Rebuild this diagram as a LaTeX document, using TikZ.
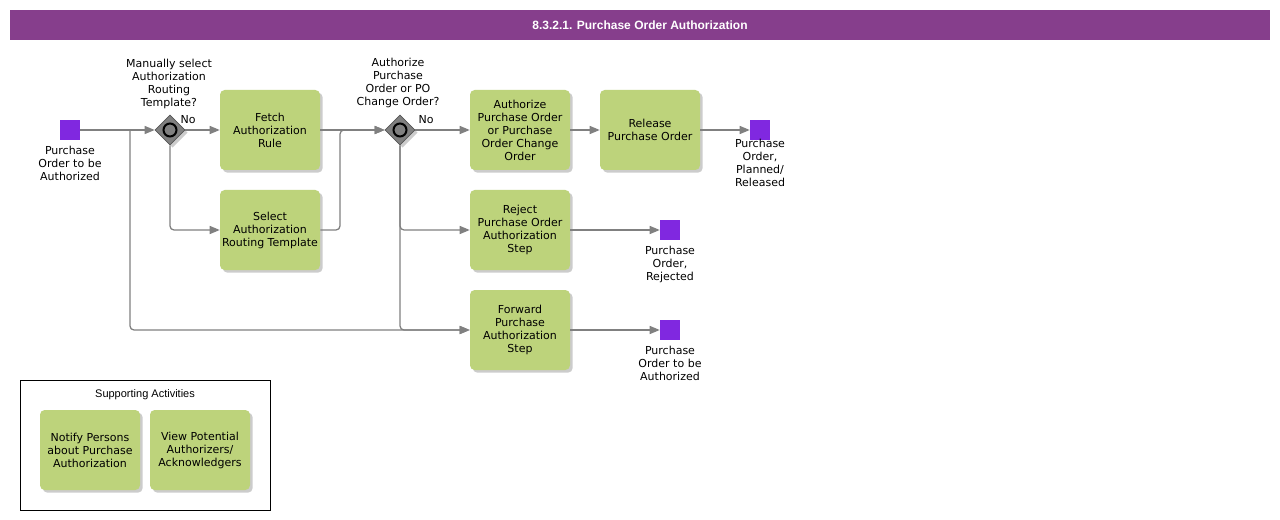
\documentclass[tikz,border=0pt]{standalone}
\usepackage{fontspec}
\setmainfont{DejaVu Sans}
\newfontfamily\arialf{Liberation Sans}
\usetikzlibrary{shapes.geometric,arrows.meta,shadows}
\definecolor{titlebg}{RGB}{134,62,140}
\definecolor{evt}{RGB}{128,40,224}
\definecolor{act}{RGB}{189,211,123}
\definecolor{conn}{RGB}{128,128,128}
\definecolor{gwfill}{RGB}{128,128,128}
\definecolor{gwedge}{RGB}{85,85,85}
\begin{document}
\begin{tikzpicture}[x=0.75pt,y=-0.75pt,
  font=\fontsize{8.25}{9.75}\selectfont,
  actbox/.style={rectangle, rounded corners=3.5pt, fill=act, minimum width=75pt, minimum height=60pt, align=center, inner sep=0pt,
    drop shadow={shadow xshift=2pt, shadow yshift=-2pt, fill=black, opacity=0.2}},
  evbox/.style={rectangle, fill=evt, minimum size=15pt, inner sep=0pt},
  gwbox/.style={diamond, fill=gwfill, draw=gwedge, line width=0.5pt, minimum size=22.5pt, inner sep=0pt,
    drop shadow={shadow xshift=2pt, shadow yshift=-2pt, fill=black, opacity=0.2}},
  gwring/.style={circle, draw=black, line width=1.5pt, fill=gwfill, minimum size=9.75pt, inner sep=0pt},
  flow/.style={draw=conn, line width=0.95pt, -{Triangle[length=7.5pt,width=6pt]}, rounded corners=3pt},
  lbl/.style={align=center, inner sep=0pt}
]
\useasboundingbox[fill=white] (0,0) rectangle (1280,520);

% title
\node[fill=titlebg, minimum width=945pt, minimum height=22.5pt, inner sep=0pt, text=white,
  font=\arialf\bfseries\fontsize{9}{11}\selectfont] (title) at (640,25) {8.3.2.1. Purchase Order Authorization};

% events
\node[evbox] (start) at (70,130) {};
\node[lbl, anchor=north] (startl) at (70,146) {Purchase\\Order to be\\Authorized};
\node[evbox] (end1) at (760,130) {};
\node[lbl, anchor=north] (end1l) at (760,139) {Purchase\\Order,\\Planned/\\Released};
\node[evbox] (end2) at (670,230) {};
\node[lbl, anchor=north] (end2l) at (670,246) {Purchase\\Order,\\Rejected};
\node[evbox] (end3) at (670,330) {};
\node[lbl, anchor=north] (end3l) at (670,346) {Purchase\\Order to be\\Authorized};

% gateways
\node[gwbox] (gw1) at (170,130) {};
\node[gwring] (gw1r) at (170,130) {};
\node[lbl, anchor=south] (gw1l) at (169,109) {Manually select\\Authorization\\Routing\\Template?};
\node[lbl] (gw1no) at (188,120) {No};
\node[gwbox] (gw2) at (400,130) {};
\node[gwring] (gw2r) at (400,130) {};
\node[lbl, anchor=south] (gw2l) at (398,108) {Authorize\\Purchase\\Order or PO\\Change Order?};
\node[lbl] (gw2no) at (426,120) {No};

% activities
\node[actbox] (fetch) at (270,130) {Fetch\\Authorization\\Rule};
\node[actbox] (select) at (270,230) {Select\\Authorization\\Routing Template};
\node[actbox] (auth) at (520,130) {Authorize\\Purchase Order\\or Purchase\\Order Change\\Order};
\node[actbox] (release) at (650,130) {Release\\Purchase Order};
\node[actbox] (reject) at (520,230) {Reject\\Purchase Order\\Authorization\\Step};
\node[actbox] (forward) at (520,330) {Forward\\Purchase\\Authorization\\Step};

% junction coordinates
\coordinate (j1) at (130,130);
\coordinate (j2) at (340,130);

% connectors
\draw[flow] (start.east) -- (gw1.west);
\draw[flow] (j1) |- (forward.west);
\draw[flow] (gw1.east) -- (fetch.west);
\draw[flow] (gw1.south) |- (select.west);
\draw[flow] (fetch.east) -- (gw2.west);
\draw[flow] (select.east) -| (j2) -- (gw2.west);
\draw[flow] (gw2.east) -- (auth.west);
\draw[flow] (gw2.south) |- (reject.west);
\draw[flow] (gw2.south) |- (forward.west);
\draw[flow] (auth.east) -- (release.west);
\draw[flow] (release.east) -- (end1.west);
\draw[flow] (reject.east) -- (end2.west);
\draw[flow] (forward.east) -- (end3.west);

% supporting activities
\node[draw=black, line width=0.75pt, minimum width=187.5pt, minimum height=97.5pt, inner sep=0pt] (sup) at (145,445) {};
\node[lbl, font=\arialf\fontsize{8.25}{10}\selectfont] (supl) at (145,395) {Supporting Activities};
\node[actbox] (notify) at (90,450) {Notify Persons\\about Purchase\\Authorization};
\node[actbox] (view) at (200,450) {View Potential\\Authorizers/\\Acknowledgers};
\end{tikzpicture}
\end{document}
